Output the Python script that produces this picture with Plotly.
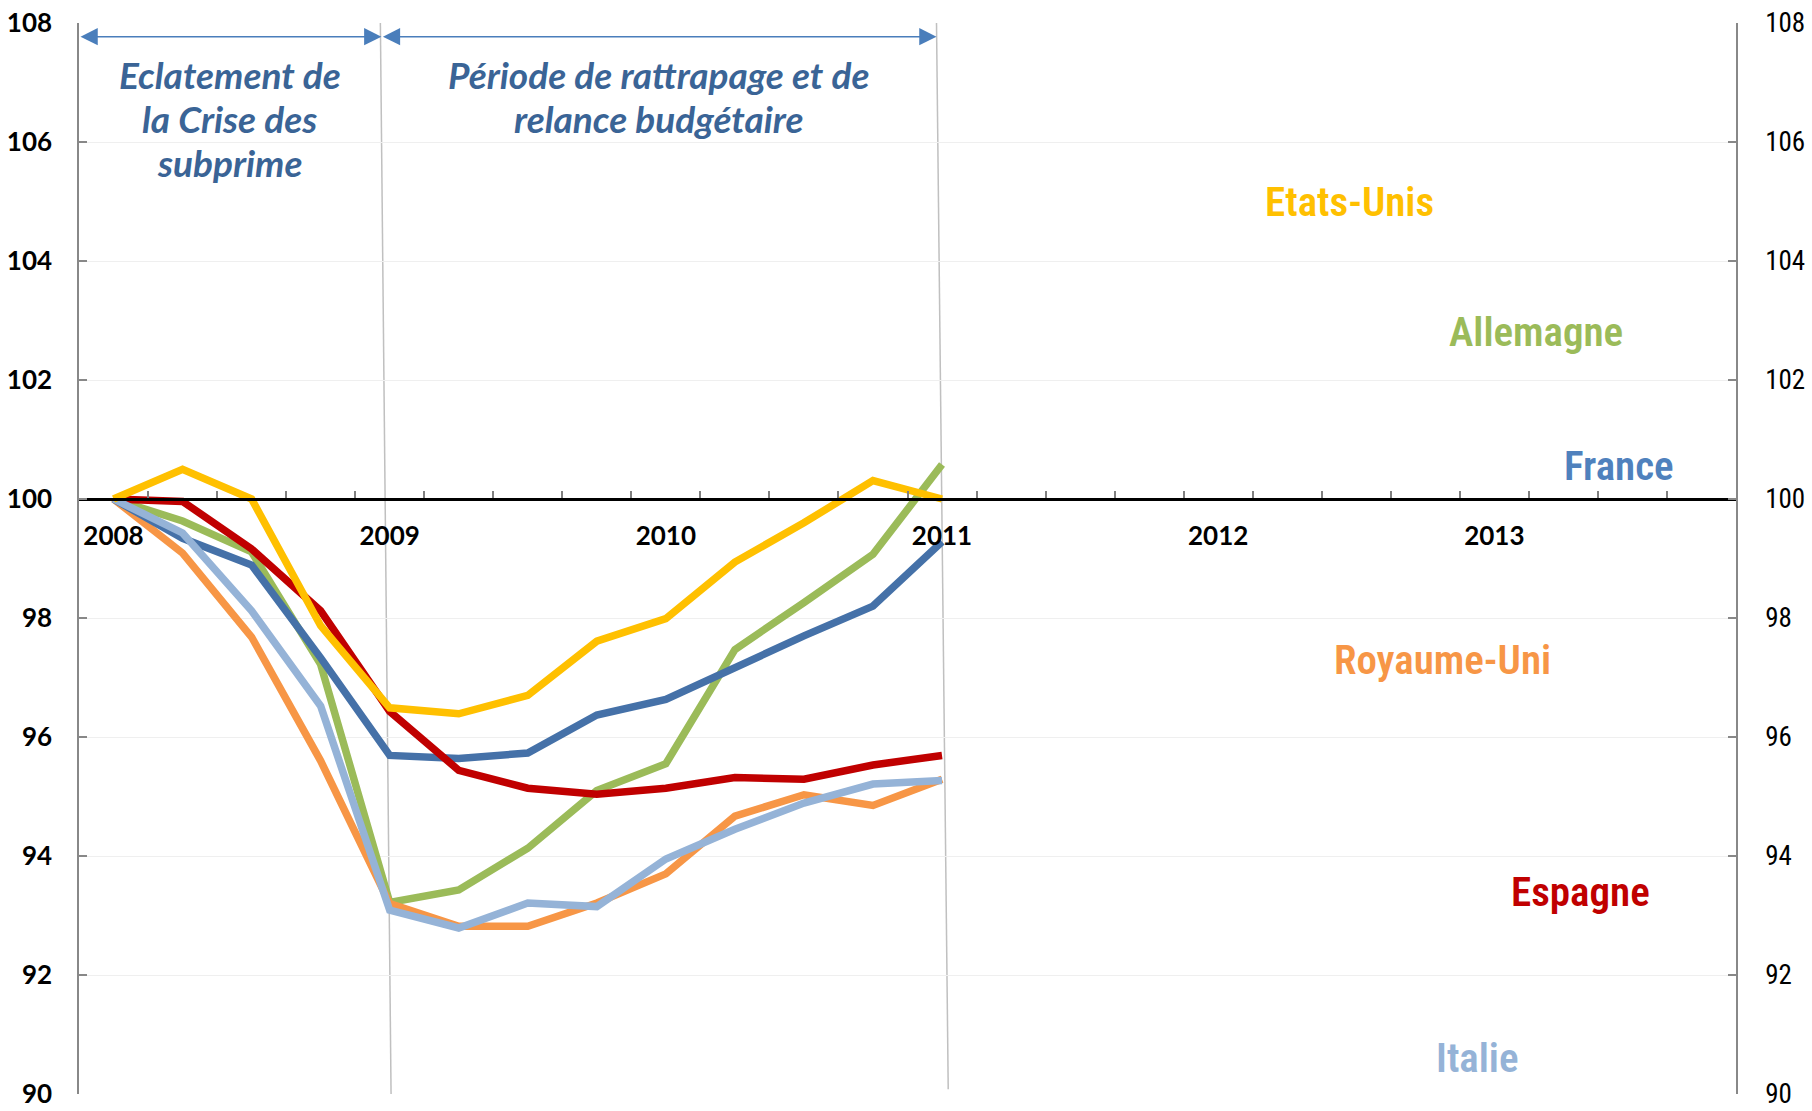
import plotly.graph_objects as go

# ---------------- data ----------------
quarters = ["2008T1", "2008T2", "2008T3", "2008T4",
            "2009T1", "2009T2", "2009T3", "2009T4",
            "2010T1", "2010T2", "2010T3", "2010T4",
            "2011T1"]
n_slots = 24  # axis spans 2008T1 .. 2013T4
year_labels = ["2008", "2009", "2010", "2011", "2012", "2013"]
year_positions = [0, 4, 8, 12, 16, 20]

etats_unis = [100.0, 100.5, 100.0, 97.87, 96.49, 96.39, 96.70, 97.61, 97.99, 98.94, 99.60, 100.31, 100.0]
allemagne = [100.0, 99.63, 99.11, 97.22, 93.22, 93.43, 94.13, 95.10, 95.55, 97.47, 98.26, 99.07, 100.58]
france = [100.0, 99.34, 98.89, 97.33, 95.69, 95.64, 95.73, 96.37, 96.63, 97.18, 97.70, 98.20, 99.28]
espagne = [100.0, 99.96, 99.16, 98.12, 96.43, 95.44, 95.14, 95.04, 95.14, 95.32, 95.29, 95.53, 95.69]
royaume_uni = [100.0, 99.09, 97.68, 95.60, 93.20, 92.82, 92.82, 93.21, 93.70, 94.67, 95.03, 94.85, 95.29]
italie = [100.0, 99.43, 98.12, 96.52, 93.09, 92.79, 93.21, 93.15, 93.95, 94.45, 94.89, 95.21, 95.27]

series = [  # drawing order bottom -> top; last one carries the right axis
    ("Allemagne", allemagne, "#9BBB59", "y"),
    ("Royaume-Uni", royaume_uni, "#F79646", "y"),
    ("France", france, "#4571A8", "y"),
    ("Espagne", espagne, "#C00000", "y"),
    ("Italie", italie, "#95B3D7", "y"),
    ("Etats-Unis", etats_unis, "#FFC000", "y2"),
]

label_pos = {  # (x slot, y value) centre of the country labels
    "Etats-Unis": (17.9, 105.0, "#FFC000"),
    "Allemagne": (20.6, 102.8, "#9BBB59"),
    "France": (21.8, 100.55, "#4F81BD"),
    "Royaume-Uni": (19.25, 97.3, "#F79646"),
    "Espagne": (21.25, 93.4, "#C00000"),
    "Italie": (19.75, 90.6, "#95B3D7"),
}

period_texts = [  # (x slot, y value of each line, lines)
    (1.68, [107.13, 106.39, 105.65], ["Eclatement de", "la Crise des", "subprime"]),
    (7.9, [107.13, 106.39], ["Période de rattrapage et de", "relance budgétaire"]),
]

y_min, y_max = 90, 108

# ---------------- figure ----------------
fig = go.Figure()
x_idx = list(range(len(quarters)))
for name, vals, col, yax in series:
    fig.add_trace(go.Scatter(x=x_idx, y=vals, mode="lines", name=name, yaxis=yax,
                             line=dict(color=col, width=7.5),
                             showlegend=False, hoverinfo="skip"))

LABEL_FONT = "Roboto Condensed, Liberation Sans Narrow, DejaVu Sans Condensed, Roboto, sans-serif"
annotations = []
for name, (lx, ly, col) in label_pos.items():
    annotations.append(dict(x=lx, y=ly, xref="x", yref="y", text=name, showarrow=False,
                            font=dict(family=LABEL_FONT, size=41, color=col, weight=600),
                            xanchor="center", yanchor="middle"))

TXT_BLUE = "#3A6496"
ARROW_BLUE = "#4A7EBB"
ital = dict(family="Lato, Open Sans, sans-serif", size=37, color=TXT_BLUE, style="italic", weight="bold")
for px, ys, lines in period_texts:
    for py, line in zip(ys, lines):
        annotations.append(dict(x=px, y=py, xref="x", yref="y", text=line,
                                showarrow=False, font=ital, xanchor="center", yanchor="middle"))

# period arrows
arrow_y = 107.77
for x0, x1 in [(-0.5, 3.88), (3.88, 11.92)]:
    annotations.append(dict(x=x1, y=arrow_y, ax=x0, ay=arrow_y, xref="x", yref="y",
                            axref="x", ayref="y", text="", showarrow=True,
                            arrowhead=2, startarrowhead=2, arrowside="end+start",
                            arrowsize=2.3, startarrowsize=2.3, arrowwidth=1.5,
                            arrowcolor=ARROW_BLUE))

shapes = [
    dict(type="line", xref="x", yref="y", x0=3.865, y0=108, x1=4.02, y1=90,
         line=dict(color="#C0C0C0", width=1.5), layer="below"),
    dict(type="line", xref="x", yref="y", x0=11.92, y0=108, x1=12.09, y1=90.08,
         line=dict(color="#C0C0C0", width=1.5), layer="below"),
]

fig.update_layout(
    width=1812, height=1111,
    margin=dict(l=79, r=76, t=23, b=17),
    paper_bgcolor="white", plot_bgcolor="white",
    annotations=annotations, shapes=shapes,
    xaxis=dict(range=[-0.5, n_slots - 0.5], anchor="free",
               position=(100 - y_min) / (y_max - y_min), automargin=False,
               showline=True, linecolor="black", linewidth=2.5,
               showgrid=False, zeroline=False,
               tickmode="array", tickvals=year_positions, ticktext=year_labels,
               ticks="inside", ticklen=0,
               tickfont=dict(family="Lato, Open Sans, sans-serif", size=26, color="black", weight="bold"),
               ticklabelstandoff=13,
               minor=dict(tick0=0.5, dtick=1, ticks="inside", ticklen=7,
                          tickcolor="#808080", tickwidth=1.5)),
    yaxis=dict(range=[y_min, y_max], dtick=2, tick0=90, automargin=False,
               showline=True, linecolor="#888888", linewidth=1.5,
               showgrid=True, gridcolor="#EFEFEF", gridwidth=1, zeroline=False,
               ticks="inside", ticklen=8, tickcolor="#888888", tickwidth=1.5,
               tickfont=dict(family="Lato, Open Sans, sans-serif", size=26, color="black", weight="bold"),
               ticklabelstandoff=20),
    yaxis2=dict(range=[y_min, y_max], dtick=2, tick0=90, overlaying="y", side="right",
                matches="y", anchor="x", automargin=False,
                showline=True, linecolor="#888888", linewidth=1.5,
                showgrid=False, zeroline=False,
                ticks="inside", ticklen=8, tickcolor="#888888", tickwidth=1.5,
                tickfont=dict(family=LABEL_FONT, size=27, color="black"),
                ticklabelstandoff=22),
)

fig.write_html("out.html", config={"displayModeBar": False},
               post_script="document.body.style.margin='0px';document.body.style.overflow='hidden';")
